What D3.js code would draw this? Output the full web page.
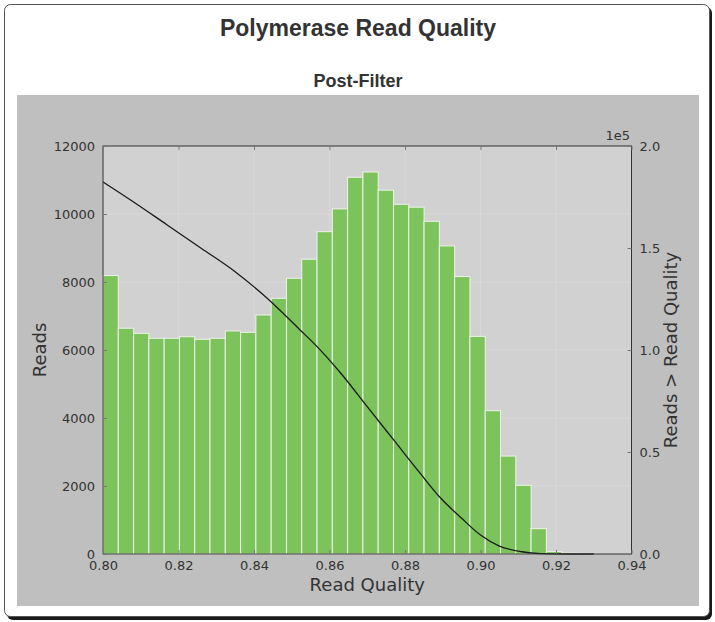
<!DOCTYPE html>
<html>
<head>
<meta charset="utf-8">
<script src="https://cdn.jsdelivr.net/npm/d3@7"></script>
<style>
  html, body { margin: 0; padding: 0; background: #ffffff; }
  svg { display: block; }
</style>
</head>
<body>
<svg id="chart" width="715" height="622"></svg>
<script>
// ---------- DATA ----------
const chartTitle = "Polymerase Read Quality";
const subTitle = "Post-Filter";
const xLabel = "Read Quality";
const yLabel = "Reads";
const y2Label = "Reads > Read Quality";

// histogram bin lower edges (read quality)
const binLower = [0.80000, 0.80405, 0.80810, 0.81215, 0.81620, 0.82025, 0.82430, 0.82835,
                  0.83240, 0.83645, 0.84050, 0.84455, 0.84860, 0.85265, 0.85670, 0.86075,
                  0.86480, 0.86885, 0.87290, 0.87695, 0.88100, 0.88505, 0.88910, 0.89315,
                  0.89720, 0.90125, 0.90530, 0.90935, 0.91340, 0.91745, 0.92150, 0.92555];
const binUpper = [0.80405, 0.80810, 0.81215, 0.81620, 0.82025, 0.82430, 0.82835, 0.83240,
                  0.83645, 0.84050, 0.84455, 0.84860, 0.85265, 0.85670, 0.86075, 0.86480,
                  0.86885, 0.87290, 0.87695, 0.88100, 0.88505, 0.88910, 0.89315, 0.89720,
                  0.90125, 0.90530, 0.90935, 0.91340, 0.91745, 0.92150, 0.92555, 0.92960];
// reads per bin
const binReads = [8190, 6640, 6490, 6345, 6345, 6390, 6315, 6345, 6560, 6520,
                  7030, 7520, 8110, 8670, 9480, 10150, 11080, 11235, 10700, 10285,
                  10200, 9785, 9060, 8160, 6400, 4215, 2880, 2020, 745, 70, 25, 20];

// cumulative "reads > read quality" line
const cumQuality = [0.800, 0.808, 0.817, 0.826, 0.835, 0.842, 0.849, 0.852, 0.856, 0.863,
                    0.870, 0.877, 0.884, 0.889, 0.895, 0.900, 0.905, 0.911, 0.916, 0.922, 0.930];
const cumReads = [182400, 172700, 161300, 149900, 138400, 127800, 115700, 110200, 103000, 88600,
                  72200, 55900, 39600, 28300, 17500, 9300, 3900, 1100, 200, 0, 0];

const xTicks = [0.80, 0.82, 0.84, 0.86, 0.88, 0.90, 0.92, 0.94];
const yTicks = [0, 2000, 4000, 6000, 8000, 10000, 12000];
const y2Ticks = [0, 50000, 100000, 150000, 200000];
const y2Offset = "1e5";

// ---------- LAYOUT ----------
const svg = d3.select("#chart");
const plot = { left: 103, right: 631.5, top: 146, bottom: 554 };

// card with shadow
svg.append("rect").attr("x", 7).attr("y", 7).attr("width", 705).attr("height", 613)
  .attr("rx", 6).attr("fill", "#1a1a1a");
svg.append("rect").attr("x", 4.5).attr("y", 4.5).attr("width", 705).attr("height", 612)
  .attr("rx", 6).attr("fill", "#ffffff").attr("stroke", "#555").attr("stroke-width", 1);

// titles
svg.append("text").attr("x", 358).attr("y", 36).attr("text-anchor", "middle")
  .attr("font-family", "Liberation Sans, Arial, sans-serif").attr("font-weight", "bold")
  .attr("font-size", 23).attr("fill", "#333").text(chartTitle);
svg.append("text").attr("x", 358).attr("y", 87).attr("text-anchor", "middle")
  .attr("font-family", "Liberation Sans, Arial, sans-serif").attr("font-weight", "bold")
  .attr("font-size", 18).attr("fill", "#333").text(subTitle);

// figure panel
svg.append("rect").attr("x", 17).attr("y", 95).attr("width", 682).attr("height", 511)
  .attr("fill", "#bfbfbf");

// plot background
svg.append("rect").attr("x", plot.left).attr("y", plot.top)
  .attr("width", plot.right - plot.left).attr("height", plot.bottom - plot.top)
  .attr("fill", "#d1d1d1");

const x = d3.scaleLinear().domain([0.80, 0.94]).range([plot.left, plot.right]);
const y = d3.scaleLinear().domain([0, 12000]).range([plot.bottom, plot.top]);
const y2 = d3.scaleLinear().domain([0, 200000]).range([plot.bottom, plot.top]);

const font = "DejaVu Sans, sans-serif";

// grid
const grid = svg.append("g");
grid.selectAll("line.vx").data(xTicks.slice(1, -1)).enter().append("line")
  .attr("x1", d => x(d)).attr("x2", d => x(d)).attr("y1", plot.top).attr("y2", plot.bottom)
  .attr("stroke", "#d8d8d8").attr("stroke-width", 1);
grid.selectAll("line.hy").data(yTicks.slice(1, -1)).enter().append("line")
  .attr("x1", plot.left).attr("x2", plot.right).attr("y1", d => y(d)).attr("y2", d => y(d))
  .attr("stroke", "#d8d8d8").attr("stroke-width", 1);

// bars
svg.append("g").selectAll("rect").data(binReads).enter().append("rect")
  .attr("x", (d, i) => x(binLower[i]))
  .attr("width", (d, i) => x(binUpper[i]) - x(binLower[i]))
  .attr("y", d => y(d))
  .attr("height", d => y(0) - y(d))
  .attr("fill", "#7bc35a")
  .attr("stroke", "#eef3ea").attr("stroke-width", 1);

// line
const line = d3.line().x((d, i) => x(cumQuality[i])).y(d => y2(d)).curve(d3.curveMonotoneX);
svg.append("path").datum(cumReads).attr("d", line)
  .attr("fill", "none").attr("stroke", "#1a1a1a").attr("stroke-width", 1.3);

// spines
svg.append("rect").attr("x", plot.left).attr("y", plot.top)
  .attr("width", plot.right - plot.left).attr("height", plot.bottom - plot.top)
  .attr("fill", "none").attr("stroke", "#333").attr("stroke-width", 1);

// axes (inward ticks)
const axB = d3.axisBottom(x).tickValues(xTicks).tickFormat(d3.format(".2f")).tickSizeInner(-4).tickSizeOuter(0).tickPadding(7);
const axT = d3.axisTop(x).tickValues(xTicks).tickFormat("").tickSizeInner(-4).tickSizeOuter(0);
const axL = d3.axisLeft(y).tickValues(yTicks).tickFormat(d3.format("d")).tickSizeInner(-4).tickSizeOuter(0).tickPadding(8);
const axR = d3.axisRight(y2).tickValues(y2Ticks).tickFormat(d => (d / 100000).toFixed(1)).tickSizeInner(-4).tickSizeOuter(0).tickPadding(8);

function styleAxis(g) {
  g.select(".domain").remove();
  g.selectAll(".tick line").attr("stroke", "#777");
  g.selectAll(".tick text").attr("font-family", font).attr("font-size", 13).attr("fill", "#333");
}
svg.append("g").attr("transform", `translate(0,${plot.bottom})`).call(axB).call(styleAxis);
svg.append("g").attr("transform", `translate(0,${plot.top})`).call(axT).call(styleAxis);
svg.append("g").attr("transform", `translate(${plot.left},0)`).call(axL).call(styleAxis);
svg.append("g").attr("transform", `translate(${plot.right},0)`).call(axR).call(styleAxis);

// offset text
svg.append("text").attr("x", 630).attr("y", 140).attr("text-anchor", "end")
  .attr("font-family", font).attr("font-size", 13).attr("fill", "#333").text(y2Offset);

// axis labels
svg.append("text").attr("x", (plot.left + plot.right) / 2).attr("y", 591).attr("text-anchor", "middle")
  .attr("font-family", font).attr("font-size", 18).attr("fill", "#333").text(xLabel);
svg.append("text").attr("transform", "translate(46,350) rotate(-90)").attr("text-anchor", "middle")
  .attr("font-family", font).attr("font-size", 18).attr("fill", "#333").text(yLabel);
svg.append("text").attr("transform", "translate(677,350) rotate(-90)").attr("text-anchor", "middle")
  .attr("font-family", font).attr("font-size", 18).attr("fill", "#333").text(y2Label);
</script>
</body>
</html>
